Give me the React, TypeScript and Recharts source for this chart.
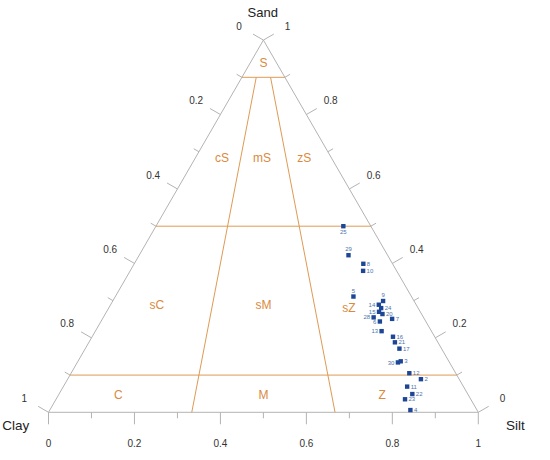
import React from 'react';
import { ScatterChart, Scatter, XAxis, YAxis, ReferenceLine } from 'recharts';

// ---- sample data (fractions) ----
const sampleIds = [25, 29, 8, 10, 5, 9, 14, 24, 15, 20, 28, 6, 7, 13, 16, 21, 17, 30, 3, 12, 2, 11, 22, 23, 4];
const sandValues = [0.500, 0.422, 0.399, 0.380, 0.311, 0.299, 0.289, 0.280, 0.270, 0.264, 0.255, 0.244, 0.251, 0.218, 0.203, 0.188, 0.171, 0.134, 0.137, 0.105, 0.089, 0.069, 0.049, 0.035, 0.006];
const siltValues = [0.436, 0.487, 0.533, 0.542, 0.554, 0.629, 0.624, 0.634, 0.634, 0.645, 0.629, 0.649, 0.674, 0.666, 0.700, 0.712, 0.731, 0.746, 0.751, 0.787, 0.822, 0.800, 0.822, 0.812, 0.839];
const clayValues = [0.064, 0.091, 0.068, 0.078, 0.135, 0.072, 0.087, 0.086, 0.096, 0.091, 0.116, 0.107, 0.075, 0.116, 0.097, 0.100, 0.098, 0.120, 0.112, 0.108, 0.089, 0.131, 0.129, 0.153, 0.155];

// label side for each sample id (style only)
const labelSide: Record<number, string> = {
  25: 'bottom', 29: 'top', 5: 'top', 9: 'top',
  14: 'left', 15: 'left', 28: 'left', 6: 'left', 13: 'left', 30: 'left',
};

// ---- Folk classification ----
const sandBoundaries = [0.9, 0.5, 0.1];
const ratioBoundaries = [1 / 3, 2 / 3];
const classNames = ['S', 'cS', 'mS', 'zS', 'sC', 'sM', 'sZ', 'C', 'M', 'Z'];
const classSand = [0.938, 0.683, 0.683, 0.683, 0.288, 0.288, 0.28, 0.0465, 0.0465, 0.0465];
const classRatio = [0.5, 0.196, 0.49, 0.8, 0.152, 0.5, 0.776, 0.146, 0.5, 0.79];

// ---- axes ----
const majorTicks = [0, 0.2, 0.4, 0.6, 0.8, 1];
const majorTickLabels = ['0', '0.2', '0.4', '0.6', '0.8', '1'];
const minorTicks = [0.1, 0.3, 0.5, 0.7, 0.9];
const axisTitles = ['Sand', 'Clay', 'Silt'];

// ---- geometry helpers ----
const H = Math.sqrt(3) / 2;
const W = 550;
const HT = 460;
const PX = 429.8; // pixels per data unit
const X0 = 48.5; // page x of data x=0
const Y0 = 412.3; // page y of data y=0
const xDomain: [number, number] = [-X0 / PX, (W - X0) / PX];
const yDomain: [number, number] = [(Y0 - HT) / PX, Y0 / PX];
const px = (n: number) => n / PX;

const tern = (sand: number, silt: number) => ({ x: silt + sand / 2, y: sand * H });

const GRAY = '#b3b3b3';
const ORANGE = '#df9a55';
const ORANGE_TEXT = '#d98a3e';
const BLUE = '#1d4796';
const BLUE_TEXT = '#4d74ad';
const FONT = 'Liberation Sans, Arial, Helvetica, sans-serif';

type Seg = { x1: number; y1: number; x2: number; y2: number; color: string };
type Txt = { x: number; y: number; text: string; size: number; color: string; anchor?: string };

const segments: Seg[] = [];
const texts: Txt[] = [];

// triangle edges
segments.push({ x1: 0, y1: 0, x2: 1, y2: 0, color: GRAY });
segments.push({ x1: 0, y1: 0, x2: 0.5, y2: H, color: GRAY });
segments.push({ x1: 1, y1: 0, x2: 0.5, y2: H, color: GRAY });

// axis definitions: base point for value v and outward direction
const axes = [
  { pos: (v: number) => ({ x: v, y: 0 }), dir: { x: 0, y: -1 }, off: px(31) },
  { pos: (v: number) => ({ x: (1 - v) / 2, y: (1 - v) * H }), dir: { x: -H, y: 0.5 }, off: px(28) },
  { pos: (v: number) => ({ x: 1 - v / 2, y: v * H }), dir: { x: H, y: 0.5 }, off: px(28) },
];

axes.forEach((ax) => {
  majorTicks.forEach((v, i) => {
    const p = ax.pos(v);
    const L = px(12);
    segments.push({ x1: p.x, y1: p.y, x2: p.x + ax.dir.x * L, y2: p.y + ax.dir.y * L, color: GRAY });
    texts.push({ x: p.x + ax.dir.x * ax.off, y: p.y + ax.dir.y * ax.off, text: majorTickLabels[i], size: 10, color: '#333333' });
  });
  minorTicks.forEach((v) => {
    const p = ax.pos(v);
    const L = px(6);
    segments.push({ x1: p.x, y1: p.y, x2: p.x + ax.dir.x * L, y2: p.y + ax.dir.y * L, color: GRAY });
  });
});

// axis titles, offset from the vertices
const apex = tern(1, 0);
const clayV = tern(0, 0);
const siltV = tern(0, 1);
texts.push({ x: apex.x - px(0.7), y: apex.y + px(27.4), text: axisTitles[0], size: 13, color: '#222222' });
texts.push({ x: clayV.x - px(32.7), y: clayV.y - px(12.7), text: axisTitles[1], size: 13.5, color: '#222222' });
texts.push({ x: siltV.x + px(37), y: siltV.y - px(13.3), text: axisTitles[2], size: 13.5, color: '#222222' });

// classification boundaries
sandBoundaries.forEach((s) => {
  const a = tern(s, 0);
  const b = tern(s, 1 - s);
  segments.push({ x1: a.x, y1: a.y, x2: b.x, y2: b.y, color: ORANGE });
});
ratioBoundaries.forEach((r) => {
  const top = sandBoundaries[0];
  const a = tern(0, r);
  const b = tern(top, (1 - top) * r);
  segments.push({ x1: a.x, y1: a.y, x2: b.x, y2: b.y, color: ORANGE });
});

classNames.forEach((name, i) => {
  const s = classSand[i];
  const p = tern(s, (1 - s) * classRatio[i]);
  texts.push({ x: p.x, y: p.y, text: name, size: 12, color: ORANGE_TEXT });
});

const samples = sampleIds.map((id, i) => {
  const tot = sandValues[i] + siltValues[i] + clayValues[i];
  const p = tern(sandValues[i] / tot, siltValues[i] / tot);
  return { x: p.x, y: p.y, id };
});

const TextShape = (props: any) => {
  const { cx, cy, payload } = props;
  if (cx == null || cy == null) return null;
  return (
    <text
      x={cx}
      y={cy}
      dy="0.36em"
      textAnchor={payload.anchor || 'middle'}
      fontSize={payload.size}
      fill={payload.color}
      fontFamily={FONT}
    >
      {payload.text}
    </text>
  );
};

const SampleShape = (props: any) => {
  const { cx, cy, payload } = props;
  if (cx == null || cy == null) return null;
  const side = labelSide[payload.id] || 'right';
  let tx = cx + 3.5;
  let ty = cy;
  let anchor = 'start';
  if (side === 'left') { tx = cx - 3.5; anchor = 'end'; }
  if (side === 'top') { tx = cx; ty = cy - 6; anchor = 'middle'; }
  if (side === 'bottom') { tx = cx; ty = cy + 6; anchor = 'middle'; }
  return (
    <g>
      <rect x={cx - 2.2} y={cy - 2.2} width={4.4} height={4.4} fill={BLUE} />
      <text x={tx} y={ty} dy="0.35em" textAnchor={anchor} fontSize={6} fill={BLUE_TEXT} fontFamily={FONT}>
        {payload.id}
      </text>
    </g>
  );
};

export default function App() {
  return (
    <div style={{ position: 'absolute', left: 0, top: 0, width: W, height: HT, background: '#ffffff' }}>
      <ScatterChart width={W} height={HT} margin={{ top: 0, right: 0, bottom: 0, left: 0 }}>
        <XAxis type="number" dataKey="x" domain={xDomain} allowDataOverflow hide />
        <YAxis type="number" dataKey="y" domain={yDomain} allowDataOverflow hide />
        {segments.map((s, i) => (
          <ReferenceLine
            key={'seg' + i}
            segment={[{ x: s.x1, y: s.y1 }, { x: s.x2, y: s.y2 }]}
            stroke={s.color}
            strokeWidth={1}
            ifOverflow="visible"
          />
        ))}
        <Scatter data={texts} shape={TextShape} isAnimationActive={false} />
        <Scatter data={samples} shape={SampleShape} isAnimationActive={false} />
      </ScatterChart>
    </div>
  );
}
